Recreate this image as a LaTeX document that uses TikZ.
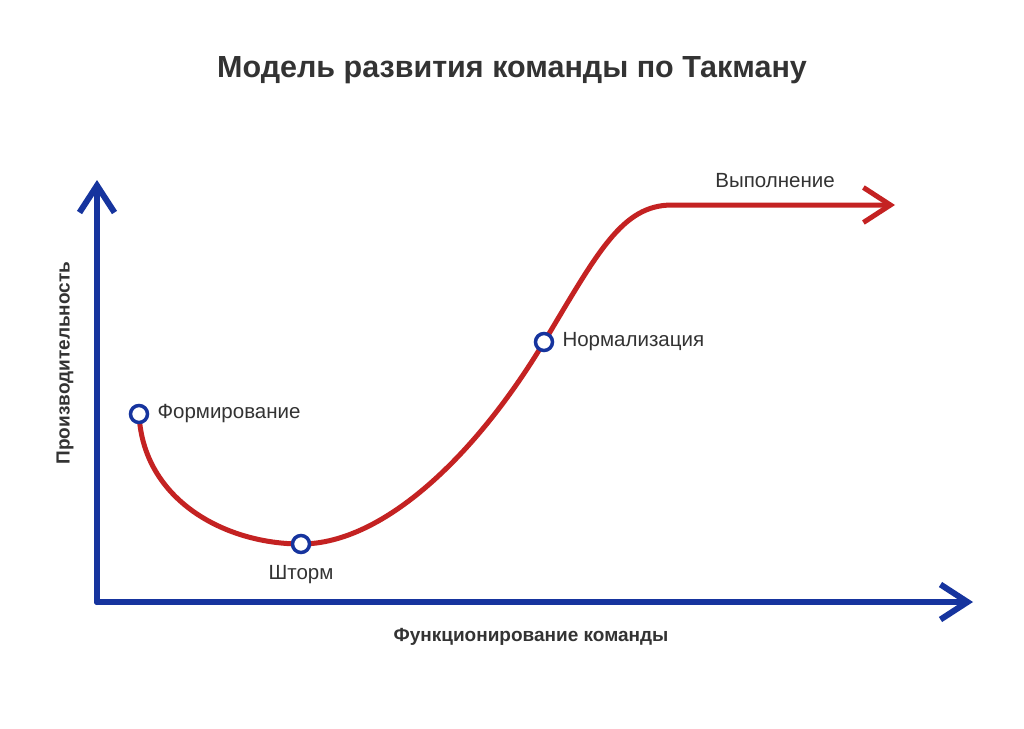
\documentclass[tikz,border=0pt]{standalone}
\usepackage{fontspec}
\setmainfont{Liberation Sans}
\usetikzlibrary{arrows.meta}
\definecolor{axisblue}{RGB}{22,52,158}
\definecolor{curvered}{RGB}{196,34,34}
\definecolor{textgray}{RGB}{51,51,51}
\tikzset{
  axisline/.style={line width=6pt, axisblue, line cap=round, line join=round,
    -{Straight Barb[length=27pt, width=35pt, line width=6pt]}},
  curveline/.style={line width=5pt, curvered, line cap=round,
    -{Straight Barb[length=27pt, width=35pt, line width=5pt]}},
  stagemark/.style={circle, draw=axisblue, fill=white, line width=3.5pt,
    minimum size=17pt, inner sep=0pt},
  stagelabel/.style={text=textgray, font=\fontsize{20.5}{24}\selectfont},
  axislabel/.style={text=textgray, font=\fontsize{19}{23}\selectfont\bfseries}
}
\begin{document}
\begin{tikzpicture}[x=1pt, y=-1pt]
                \useasboundingbox[fill=white] (0,0) rectangle (1024,728);
                
                % Title
                \node (title) [text=textgray, font=\fontsize{30.5}{36}\selectfont\bfseries] at (512,70)
                  {Модель развития команды по Такману};
                
                % Drawing axes
                \coordinate (origin) at (97,602);
                \coordinate (ytip) at (97,180);
                \coordinate (xtip) at (973,602);
                \draw [axisline] (origin) -- (ytip);
                \draw [axisline] (origin) -- (xtip);
                
                % Axis labels
                \node (xlabel) [axislabel] at (531,637) {Функционирование команды};
                \node (ylabel) [axislabel, rotate=90] at (65,363) {Производительность};
                
                % Drawing the curve
                \coordinate (forming) at (139,414);
                \coordinate (storming) at (301,544);
                \coordinate (norming) at (544,342);
                \coordinate (plateau) at (672,205);
                \coordinate (ctip) at (895,205);
                \draw [curveline] (forming)
                  .. controls (143,500) and (225,544) .. (storming)
                  .. controls (385,544) and (478,452) .. (norming)
                  .. controls (598,252) and (622,205) .. (plateau) -- (ctip);
                
                % Marking stages
                \node (formdot) [stagemark] at (forming) {};
                \node (stormdot) [stagemark] at (storming) {};
                \node (normdot) [stagemark] at (norming) {};
                \node (formtext) [stagelabel, anchor=west] at (154,414) {Формирование};
                \node (stormtext) [stagelabel, anchor=north] at (301,562) {Шторм};
                \node (normtext) [stagelabel, anchor=west] at (559,342) {Нормализация};
                \node (perftext) [stagelabel] at (775,181) {Выполнение};
\end{tikzpicture}
\end{document}
